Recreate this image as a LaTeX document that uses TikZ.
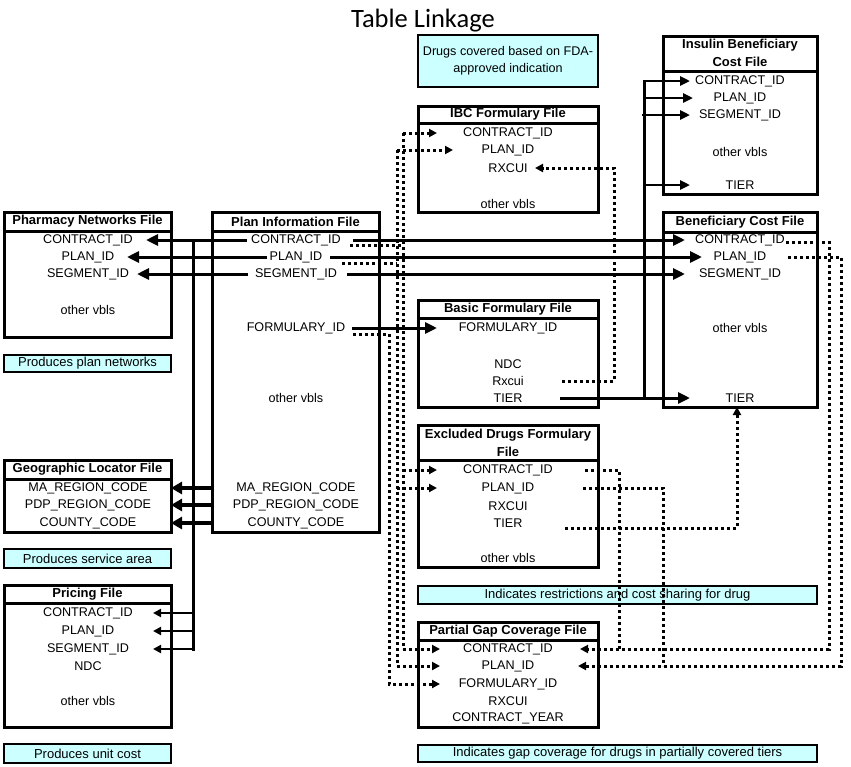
\documentclass[tikz,border=0pt]{standalone}
\usepackage{fontspec}
\setmainfont{Liberation Sans}
\newfontfamily\titlefont{Carlito}
\usetikzlibrary{arrows.meta}
\definecolor{notecyan}{RGB}{204,255,255}
\newcommand\bodyfs{\fontsize{12.6}{17}\selectfont}
\newcommand\notefs{\fontsize{13}{17}\selectfont}
\newcommand\hdrfs{\fontsize{13}{17.5}\selectfont\bfseries}
\begin{document}
\begin{tikzpicture}[x=1pt,y=-1pt,
  tbox/.style={draw,line width=3pt,anchor=north west,inner sep=0pt,outer sep=0pt},
  note/.style={draw,line width=2.2pt,fill=notecyan,anchor=north west,inner sep=0pt,outer sep=0pt,font=\notefs,align=center},
  item/.style={inner sep=0pt,font=\bodyfs},
  hdr/.style={inner sep=0pt,font=\hdrfs,align=center},
  hline/.style={line width=3pt},
  sl/.style={line width=3pt,line cap=rect},
  sa/.style={line width=3pt,-{Triangle[length=12pt,width=11pt]}},
  ga/.style={line width=3.4pt,-{Triangle[length=11pt,width=12pt]}},
  pa/.style={line width=2.2pt,-{Triangle[length=8pt,width=8pt]}},
  ia/.style={line width=2.5pt,-{Triangle[length=10pt,width=9pt]}},
  dl/.style={line width=3pt,dash pattern=on 3pt off 3pt},
  da/.style={dl,-{Triangle[length=8pt,width=8pt]}}]
\useasboundingbox (0,0) rectangle (851,766);
\fill[white] (0,0) rectangle (851,766);
\node[font=\titlefont\fontsize{26.5}{30}\selectfont] (title) at (423,21) {Table Linkage};

% ---------- boxes ----------
\node[tbox,minimum width=167pt,minimum height=125pt] (pn) at (4,212) {};
\draw[hline] (pn.west |- 0,231) -- (pn.east |- 0,231);
\node[hdr] (pnh) at (87.5,221.5) {Pharmacy Networks File};

\node[tbox,minimum width=167pt,minimum height=320pt] (pi) at (212,212) {};
\draw[hline] (pi.west |- 0,231) -- (pi.east |- 0,231);
\node[hdr] (pih) at (295.5,221.5) {Plan Information File};

\node[tbox,minimum width=167pt,minimum height=72pt] (gl) at (4,460) {};
\draw[hline] (gl.west |- 0,479) -- (gl.east |- 0,479);
\node[hdr] (glh) at (87.5,469.5) {Geographic Locator File};

\node[tbox,minimum width=167pt,minimum height=142pt] (pr) at (4,585) {};
\draw[hline] (pr.west |- 0,603) -- (pr.east |- 0,603);
\node[hdr] (prh) at (87.5,594) {Pricing File};

\node[note,minimum width=167pt,minimum height=17pt] (n1) at (4,355) {Produces plan networks};
\node[note,minimum width=167pt,minimum height=19pt] (n2) at (4,549) {Produces service area};
\node[note,minimum width=167pt,minimum height=19pt] (n3) at (4,744) {Produces unit cost};

\node[note,minimum width=180pt,minimum height=52pt,font=\bodyfs] (drugs) at (418,35) {Drugs covered based on FDA-\\approved indication};

\node[tbox,minimum width=180pt,minimum height=106pt] (ibc) at (418,106) {};
\draw[hline] (ibc.west |- 0,123) -- (ibc.east |- 0,123);
\node[hdr] (ibch) at (508,114.5) {IBC Formulary File};

\node[tbox,minimum width=154pt,minimum height=158pt] (ins) at (663,36) {};
\draw[hline] (ins.west |- 0,71) -- (ins.east |- 0,71);
\node[hdr] (insh) at (740,53) {Insulin Beneficiary\\Cost File};

\node[tbox,minimum width=154pt,minimum height=195pt] (bc) at (663,212) {};
\draw[hline] (bc.west |- 0,232) -- (bc.east |- 0,232);
\node[hdr] (bch) at (740,222) {Beneficiary Cost File};

\node[tbox,minimum width=180pt,minimum height=107pt] (bf) at (418,300) {};
\draw[hline] (bf.west |- 0,318) -- (bf.east |- 0,318);
\node[hdr] (bfh) at (508,309.5) {Basic Formulary File};

\node[tbox,minimum width=180pt,minimum height=142pt] (ex) at (418,425) {};
\draw[hline] (ex.west |- 0,460) -- (ex.east |- 0,460);
\node[hdr] (exh) at (508,443) {Excluded Drugs Formulary\\File};

\node[note,minimum width=399pt,minimum height=18pt] (n4) at (418,586) {Indicates restrictions and cost sharing for drug};

\node[tbox,minimum width=180pt,minimum height=105pt] (pg) at (418,622) {};
\draw[hline] (pg.west |- 0,640) -- (pg.east |- 0,640);
\node[hdr] (pgh) at (508,631) {Partial Gap Coverage File};

\node[note,minimum width=399pt,minimum height=17pt] (n5) at (418,745) {Indicates gap coverage for drugs in partially covered tiers};

% ---------- items ----------
\node[item] (pn-c) at (88,240) {CONTRACT\_ID};
\node[item] (pn-p) at (88,257) {PLAN\_ID};
\node[item] (pn-s) at (88,274) {SEGMENT\_ID};
\node[item] (pn-o) at (88,310) {other vbls};

\node[item] (pi-c) at (296,240) {CONTRACT\_ID};
\node[item] (pi-p) at (296,257) {PLAN\_ID};
\node[item] (pi-s) at (296,274) {SEGMENT\_ID};
\node[item] (pi-f) at (296,328) {FORMULARY\_ID};
\node[item] (pi-o) at (296,398) {other vbls};
\node[item] (pi-ma) at (296,488) {MA\_REGION\_CODE};
\node[item] (pi-pdp) at (296,505) {PDP\_REGION\_CODE};
\node[item] (pi-cc) at (296,523) {COUNTY\_CODE};

\node[item] (gl-ma) at (88,488) {MA\_REGION\_CODE};
\node[item] (gl-pdp) at (88,505) {PDP\_REGION\_CODE};
\node[item] (gl-cc) at (88,523) {COUNTY\_CODE};

\node[item] (pr-c) at (88,613) {CONTRACT\_ID};
\node[item] (pr-p) at (88,631) {PLAN\_ID};
\node[item] (pr-s) at (88,649) {SEGMENT\_ID};
\node[item] (pr-n) at (88,666) {NDC};
\node[item] (pr-o) at (88,701) {other vbls};

\node[item] (ibc-c) at (508,133) {CONTRACT\_ID};
\node[item] (ibc-p) at (508,150) {PLAN\_ID};
\node[item] (ibc-r) at (508,168) {RXCUI};
\node[item] (ibc-o) at (508,204) {other vbls};

\node[item] (ins-c) at (740,81) {CONTRACT\_ID};
\node[item] (ins-p) at (740,98) {PLAN\_ID};
\node[item] (ins-s) at (740,115) {SEGMENT\_ID};
\node[item] (ins-o) at (740,152) {other vbls};
\node[item] (ins-t) at (740,185) {TIER};

\node[item] (bc-c) at (740,240) {CONTRACT\_ID};
\node[item] (bc-p) at (740,257) {PLAN\_ID};
\node[item] (bc-s) at (740,274) {SEGMENT\_ID};
\node[item] (bc-o) at (740,328) {other vbls};
\node[item] (bc-t) at (740,398) {TIER};

\node[item] (bf-f) at (508,328) {FORMULARY\_ID};
\node[item] (bf-n) at (508,364) {NDC};
\node[item] (bf-r) at (508,381) {Rxcui};
\node[item] (bf-t) at (508,398) {TIER};

\node[item] (ex-c) at (508,470) {CONTRACT\_ID};
\node[item] (ex-p) at (508,488) {PLAN\_ID};
\node[item] (ex-r) at (508,506) {RXCUI};
\node[item] (ex-t) at (508,523) {TIER};
\node[item] (ex-o) at (508,558) {other vbls};

\node[item] (pg-c) at (508,649) {CONTRACT\_ID};
\node[item] (pg-p) at (508,666) {PLAN\_ID};
\node[item] (pg-f) at (508,684) {FORMULARY\_ID};
\node[item] (pg-r) at (508,701) {RXCUI};
\node[item] (pg-y) at (508,718) {CONTRACT\_YEAR};

% ---------- solid connectors, left ----------
\draw[sa] (247,0 |- pi-c) -- (146,0 |- pn-c);
\draw[sa] (267,0 |- pi-p) -- (127,0 |- pn-p);
\draw[sa] (248,0 |- pi-s) -- (137,0 |- pn-s);
\draw[sl] (193,0 |- pi-c) -- (193,0 |- pr-s);
\draw[pa] (193,0 |- pr-c) -- (153,0 |- pr-c);
\draw[pa] (193,0 |- pr-p) -- (153,0 |- pr-p);
\draw[pa] (193,0 |- pr-s) -- (153,0 |- pr-s);
\draw[ga] (pi.west |- pi-ma) -- (gl.east |- gl-ma);
\draw[ga] (pi.west |- pi-pdp) -- (gl.east |- gl-pdp);
\draw[ga] (pi.west |- pi-cc) -- (gl.east |- gl-cc);

% ---------- solid connectors, right ----------
\draw[sa] (353,0 |- pi-c) -- (685,0 |- bc-c);
\draw[sa] (330,0 |- pi-p) -- (702,0 |- bc-p);
\draw[sa] (347,0 |- pi-s) -- (685,0 |- bc-s);
\draw[sa] (352,0 |- pi-f) -- (437,0 |- bf-f);
\draw[sa] (560,0 |- bf-t) -- (690,0 |- bc-t);
\draw[sl] (644,0 |- bf-t) -- (644,0 |- ins-c);
\draw[ia] (644,0 |- ins-c) -- (690,0 |- ins-c);
\draw[ia] (644,0 |- ins-p) -- (693,0 |- ins-p);
\draw[ia] (642,0 |- ins-s) -- (690,0 |- ins-s);
\draw[ia] (644,0 |- ins-t) -- (690,0 |- ins-t);

% ---------- dotted connectors, left bundle ----------
\draw[dl] ([xshift=9pt,yshift=-5pt]pi-c.east) -- (403,245);
\draw[dl] (403,0 |- ibc-c) -- (403,0 |- pg-c);
\draw[da] (403,0 |- ibc-c) -- (437,0 |- ibc-c);
\draw[da] (403,0 |- ex-c) -- (437,0 |- ex-c);
\draw[da] (403,0 |- pg-c) -- (440,0 |- pg-c);

\draw[dl] ([xshift=20pt,yshift=-6pt]pi-p.east) -- (397,263);
\draw[dl] (397,0 |- ibc-p) -- (397,0 |- pg-p);
\draw[da] (397,0 |- ibc-p) -- (453,0 |- ibc-p);
\draw[da] (397,0 |- ex-p) -- (437,0 |- ex-p);
\draw[da] (397,0 |- pg-p) -- (440,0 |- pg-p);

\draw[da] ([xshift=8pt,yshift=-6pt]pi-f.east) -- (389,334) -- (389,0 |- pg-f) -- (440,0 |- pg-f);

% ---------- dotted connectors, right ----------
\draw[da] (562,0 |- bf-r) -- (614,0 |- bf-r) -- (614,0 |- ibc-r) -- (535,0 |- ibc-r);
\draw[da] (565,528) -- (737,528) -- (737,0 |- bc.south);
\draw[dl] (585,0 |- ex-c) -- (619,0 |- ex-c) -- (619,0 |- pg-c);
\draw[dl] (583,0 |- ex-p) -- (663,0 |- ex-p) -- (663,0 |- pg-p);
\draw[da] (786,242) -- (829,242) -- (829,0 |- pg-c) -- (580,0 |- pg-c);
\draw[da] (788,0 |- bc-p) -- (841,0 |- bc-p) -- (841,0 |- pg-p) -- (578,0 |- pg-p);
\end{tikzpicture}
\end{document}
